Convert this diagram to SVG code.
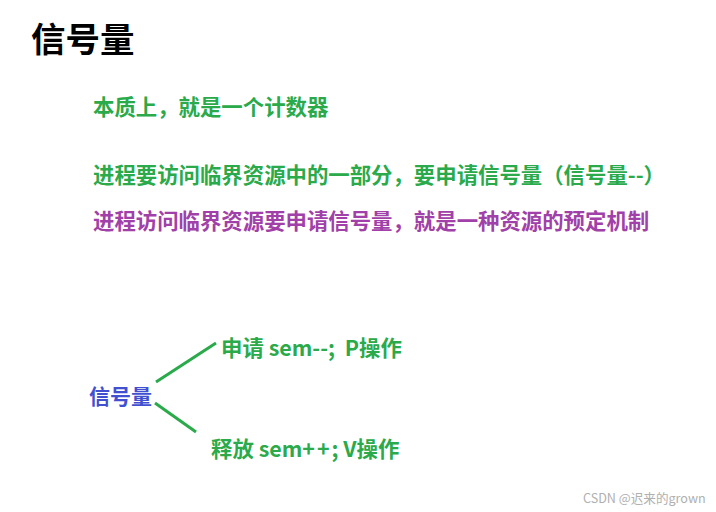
<svg xmlns="http://www.w3.org/2000/svg" width="716" height="512" viewBox="0 0 716 512">
<style>
text{font-family:"Noto Sans CJK SC","Noto Sans",sans-serif;font-weight:bold}
.g{fill:#2aaa4a;font-size:21.4px}
.p{fill:#a040a8;font-size:21.4px}
.b{fill:#4050d0;font-size:21px}
.ln{stroke:#2aaa4a;stroke-width:3;fill:none}
</style>
<rect width="716" height="512" fill="#fff"/>
<g id="title"><text x="31" y="52" style="font-size:34.5px" fill="#000">信号量</text></g>
<g id="t1"><text class="g" x="93" y="115">本质上，就是一个计数器</text></g>
<g id="t2"><text class="g" x="93" y="183">进程要访问临界资源中的一部分，要申请信号量（信号量--）</text></g>
<g id="t3"><text class="p" x="93" y="229">进程访问临界资源要申请信号量，就是一种资源的预定机制</text></g>
<g id="connectors">
<line class="ln" x1="156" y1="382" x2="216" y2="343"/>
<line class="ln" x1="155" y1="403" x2="196" y2="432"/>
</g>
<g id="root"><text class="b" x="89" y="404">信号量</text></g>
<g id="p"><text class="g" x="221" y="356" xml:space="preserve">申请 sem--;  P操作</text></g>
<g id="v"><text class="g" x="211" y="457" xml:space="preserve">释放 sem<tspan letter-spacing="2">++</tspan>; V操作</text></g>
<text x="583" y="503" style="font-weight:normal;font-size:12.6px" fill="#b0b0b0">CSDN @迟来的grown</text>
</svg>
